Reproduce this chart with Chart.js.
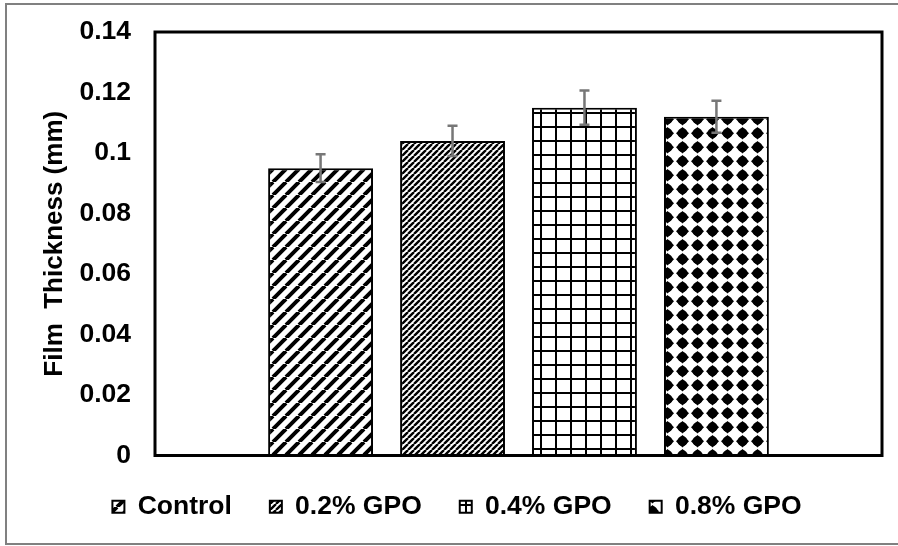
<!DOCTYPE html>
<html>
<head>
<meta charset="utf-8">
<script src="https://cdn.jsdelivr.net/npm/chart.js@4"></script>
<style>
  html, body { margin: 0; padding: 0; background: #fff; }
  #wrap { width: 898px; height: 546px; }
</style>
</head>
<body>
<div id="wrap"><canvas id="thicknessChart" width="898" height="546"></canvas></div>
<script>
// Film thickness per formulation
const seriesLabels = ['Control', '0.2% GPO', '0.4% GPO', '0.8% GPO'];
const thicknessValues = [0.095, 0.104, 0.115, 0.112];
const errorValues = [0.0046, 0.005, 0.0057, 0.0053];
const yMin = 0;
const yMax = 0.14;
const yStep = 0.02;

function makeTile(w, h, draw) {
    const c = document.createElement('canvas');
    c.width = w;
    c.height = h;
    const g = c.getContext('2d');
    g.fillStyle = '#fff';
    g.fillRect(0, 0, w, h);
    g.strokeStyle = '#000';
    g.fillStyle = '#000';
    draw(g, w, h);
    return g.createPattern(c, 'repeat');
}

// "/" stripes
function stripes(size, lw) {
    return makeTile(size, size, (g, w, h) => {
        g.lineWidth = lw;
        g.beginPath();
        for (let k = -1; k <= 1; k++) {
            g.moveTo(k * w, h);
            g.lineTo(k * w + w, 0);
        }
        g.stroke();
    });
}

const patterns = [
    stripes(13, 4),
    stripes(6, 2.4),
    makeTile(15, 14.5, (g, w, h) => {
        g.lineWidth = 2;
        g.beginPath();
        g.moveTo(1, 0); g.lineTo(1, h);
        g.moveTo(0, 1); g.lineTo(w, 1);
        g.stroke();
    }),
    makeTile(15, 14.5, (g, w, h) => {
        const cx = w / 2, cy = h / 2;
        g.beginPath();
        g.arc(cx, cy, 5, 0, Math.PI * 2);
        g.fill();
        g.beginPath();
        g.moveTo(cx - 6.5, cy); g.lineTo(cx, cy - 6.2); g.lineTo(cx + 6.5, cy); g.lineTo(cx, cy + 6.2);
        g.closePath();
        g.fill();
    })
];

const datasets = seriesLabels.map((name, i) => ({
    label: name,
    data: [thicknessValues[i]],
    errors: [errorValues[i]],
    backgroundColor: patterns[i],
    borderColor: '#000',
    borderWidth: 2,
    categoryPercentage: 0.726,
    barPercentage: 0.795
}));

// frame, plot box and error bars
const extras = {
    id: 'extras',
    beforeDraw(chart) {
        const ctx = chart.ctx;
        ctx.save();
        ctx.strokeStyle = '#808080';
        ctx.lineWidth = 2;
        ctx.strokeRect(6, 4, 900, 540);
        ctx.restore();
    },
    afterDatasetsDraw(chart) {
        const ctx = chart.ctx;
        const a = chart.chartArea;
        const y = chart.scales.y;
        ctx.save();
        ctx.strokeStyle = '#777';
        ctx.lineWidth = 2.5;
        chart.data.datasets.forEach((ds, i) => {
            const bar = chart.getDatasetMeta(i).data[0];
            const v = ds.data[0], e = ds.errors[0];
            const top = y.getPixelForValue(v + e);
            const bot = y.getPixelForValue(v - e);
            ctx.beginPath();
            ctx.moveTo(bar.x, top); ctx.lineTo(bar.x, bot);
            ctx.moveTo(bar.x - 5, top); ctx.lineTo(bar.x + 5, top);
            ctx.moveTo(bar.x - 5, bot); ctx.lineTo(bar.x + 5, bot);
            ctx.stroke();
        });
        ctx.strokeStyle = '#000';
        ctx.lineWidth = 3;
        ctx.strokeRect(a.left, a.top, a.right - a.left, a.bottom - a.top);
        ctx.restore();
    }
};

const font = (size) => ({ family: 'Liberation Sans, Arial, sans-serif', size: size, weight: 'bold' });

new Chart(document.getElementById('thicknessChart').getContext('2d'), {
    type: 'bar',
    data: {
        labels: [''],
        datasets: datasets
    },
    options: {
        responsive: false,
        animation: false,
        layout: { padding: { top: 32, right: 16, bottom: 16, left: 32 } },
        plugins: {
            tooltip: { enabled: false },
            legend: {
                position: 'bottom',
                labels: {
                    boxWidth: 12,
                    boxHeight: 12,
                    padding: 38,
                    color: '#000',
                    font: font(26.5)
                }
            }
        },
        scales: {
            x: { display: false },
            y: {
                min: yMin,
                max: yMax,
                afterFit: s => { s.width = 123; s.paddingTop = 0; s.paddingBottom = 0; },
                grid: { display: false, drawTicks: false },
                border: { display: false },
                ticks: {
                    stepSize: yStep,
                    padding: 24,
                    color: '#000',
                    font: font(26.5),
                    callback: v => String(+v.toFixed(2))
                },
                title: {
                    display: true,
                    text: 'Film  Thickness (mm)',
                    color: '#000',
                    padding: { top: 7, bottom: 0 },
                    font: font(26)
                }
            }
        }
    },
    plugins: [extras]
});
</script>
</body>
</html>
